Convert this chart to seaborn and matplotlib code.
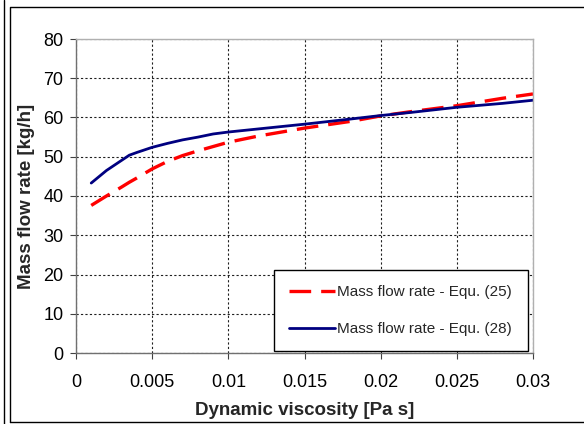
import matplotlib
matplotlib.use('Agg')
import matplotlib.pyplot as plt
from matplotlib.lines import Line2D
import seaborn as sns
import pandas as pd

# ── Data ────────────────────────────────────────────────────
viscosity = [0.001, 0.002, 0.003, 0.0035, 0.004, 0.005, 0.006, 0.007, 0.008,
             0.009, 0.010, 0.012, 0.015, 0.018, 0.020, 0.022, 0.025,
             0.028, 0.030]
flow_eq25 = [37.6, 40.0, 42.3, 43.5, 44.6, 46.9, 48.8, 50.3, 51.5,
             52.6, 53.7, 55.3, 57.3, 59.0, 60.4, 61.5, 63.0,
             64.9, 66.0]
flow_eq28 = [43.3, 46.5, 49.1, 50.4, 51.1, 52.4, 53.4, 54.3, 55.0,
             55.8, 56.3, 57.1, 58.3, 59.6, 60.5, 61.3, 62.6,
             63.6, 64.4]

LABEL_25 = 'Mass flow rate - Equ. (25)'
LABEL_28 = 'Mass flow rate - Equ. (28)'

df = pd.DataFrame({'visc': viscosity, 'eq25': flow_eq25, 'eq28': flow_eq28})

# ── Style ───────────────────────────────────────────────────
sns.set_style("white")
plt.rcParams['font.family'] = ['Liberation Sans', 'DejaVu Sans']

fig = plt.figure(figsize=(5.84, 4.24), dpi=100)
ax = fig.add_axes([76 / 584, 1 - 353 / 424, (533 - 76) / 584, (353 - 39) / 424])

sns.lineplot(data=df, x='visc', y='eq25', ax=ax, color='#ff0000',
             linewidth=2.4, label=LABEL_25)
sns.lineplot(data=df, x='visc', y='eq28', ax=ax, color='#000080',
             linewidth=2.0, label=LABEL_28)
ax.lines[0].set_dashes([6.5, 3])

ax.set_xlim(0, 0.03)
ax.set_ylim(0, 80)
ax.set_xticks([0, 0.005, 0.01, 0.015, 0.02, 0.025, 0.03])
ax.set_xticklabels(['0', '0.005', '0.01', '0.015', '0.02', '0.025', '0.03'])
ax.set_yticks(range(0, 81, 10))

ax.grid(True, color='#202020', linestyle=(0, (2, 2)), linewidth=0.8)
ax.set_axisbelow(True)
ax.tick_params(axis='both', direction='out', length=4, width=0.8,
               colors='#404040', labelcolor='black', labelsize=13,
               bottom=True, left=True, pad=5)
ax.tick_params(axis='x', pad=11)

for side in ['left', 'bottom']:
    ax.spines[side].set_color('#707070')
    ax.spines[side].set_linewidth(1.0)
for side in ['top', 'right']:
    ax.spines[side].set_color('#b0b0b0')
    ax.spines[side].set_linewidth(1.0)

ax.set_xlabel('Dynamic viscosity [Pa s]', fontsize=13.5, fontweight='bold', labelpad=8)
ax.set_ylabel('Mass flow rate [kg/h]', fontsize=13.5, fontweight='bold', labelpad=6)

leg = ax.legend(loc='lower right', bbox_to_anchor=(0.988, 0.005), fontsize=11,
                frameon=True, fancybox=False, borderpad=1.0, labelspacing=1.5,
                handlelength=3.0, handletextpad=0.15, borderaxespad=0)
leg.get_frame().set_edgecolor('black')
leg.get_frame().set_linewidth(1.0)
leg.get_frame().set_alpha(1)

# ── Outer frame lines ───────────────────────────────────────
fig.add_artist(Line2D([4 / 584, 4 / 584], [0, 1], color='black', linewidth=1.0,
                      transform=fig.transFigure))
fig.add_artist(Line2D([10 / 584, 10 / 584, 1], [1 - 422 / 424, 1 - 7 / 424, 1 - 7 / 424],
                      color='black', linewidth=1.0, transform=fig.transFigure))
fig.add_artist(Line2D([10 / 584, 1], [1 - 422 / 424, 1 - 422 / 424],
                      color='black', linewidth=1.0, transform=fig.transFigure))

plt.savefig('out.png', dpi=100)
